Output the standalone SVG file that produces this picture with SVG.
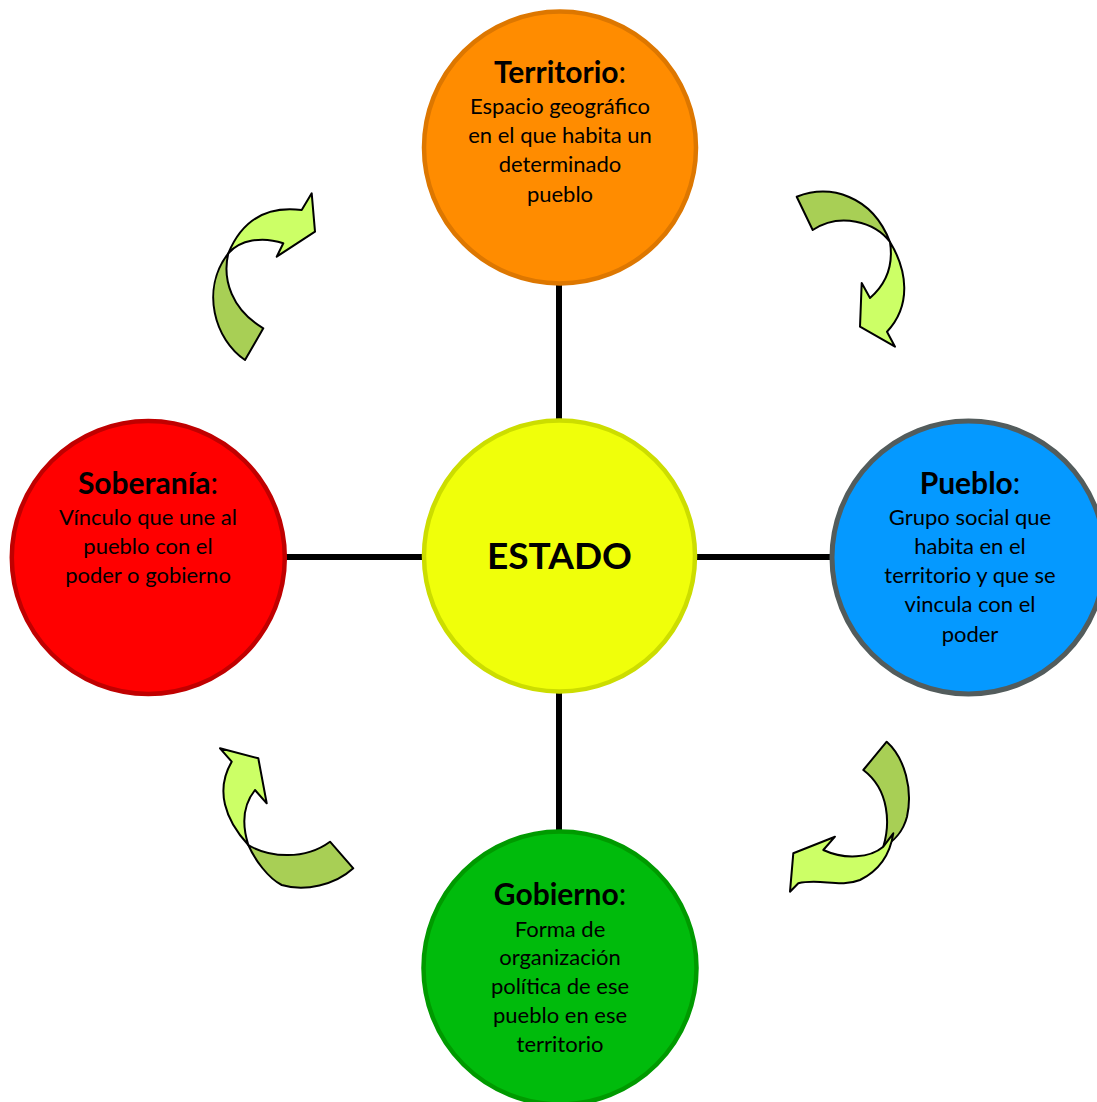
<svg xmlns="http://www.w3.org/2000/svg" width="1097" height="1102" viewBox="0 0 1097 1102">
<style>
.t{font-family:Lato,"Liberation Sans",sans-serif;text-anchor:middle;fill:#000}
.h{font-size:30px;font-weight:bold}
.c{font-weight:normal}
.b{font-size:22px}
.line{stroke:#000;stroke-width:6;fill:none}
.dk{fill:#A8CF55;stroke:#000;stroke-width:2;stroke-linejoin:round}
.lt{fill:#CCFF66;stroke:#000;stroke-width:2;stroke-linejoin:round}
</style>
<rect width="1097" height="1102" fill="#fff"/>
<g id="connectors">
<line class="line" x1="559" y1="284" x2="559" y2="422"/>
<line class="line" x1="559" y1="690" x2="559" y2="832"/>
<line class="line" x1="286" y1="557" x2="424" y2="557"/>
<line class="line" x1="694" y1="557" x2="833" y2="557"/>
</g>
<g id="cycle-arrows">
<g id="arrow-tr">
<path class="dk" d="M796.7,196.7 C830,184 872,195 890,242 C875,222 840,212 812.7,230 Z"/>
<path class="lt" d="M890,242 C907,270 912,305 887,331.7 L895,346.7 L860,326.7 L861.7,283 L870,298 C885,285 894,268 890,242 Z"/>
</g>
<g id="arrow-tl">
<path class="dk" d="M245,360 C215,340 200,290 228.3,253.3 C222,280 232,310 263.3,328.3 Z"/>
<path class="lt" d="M228.3,253.3 C240,225 262,205 301.7,210 L311.7,193.3 L315,231.7 L276.7,256.7 L283.3,243.3 C262,236 240,240 228.3,253.3 Z"/>
</g>
<g id="arrow-bl">
<path class="lt" d="M248.3,845 C225,820 215,790 231.7,761.7 L220,748.3 L258.3,758.3 L266.7,803.3 L255,790 C243,805 242,825 248.3,845 Z"/>
<path class="dk" d="M248.3,845 C270,858 305,860 330,841.7 L353.3,868.3 C335,885 305,892 281.7,885 C268,878 255,860 248.3,845 Z"/>
</g>
<g id="arrow-br">
<path class="dk" d="M886.7,741.7 C905,758 913,790 907,816.7 C903,832 893,842 883.3,846.7 C890,825 890,790 863.3,770 Z"/>
<path class="lt" d="M883.3,846.7 C870,858 845,860 823.3,850 L835,836.7 L793.3,853.3 L790,891.7 L798.3,883.3 C820,878 840,888 860,880 C880,870 890,855 893.3,833.3 Z"/>
</g>
</g>
<g id="node-territorio">
<circle cx="560" cy="147.5" r="136" fill="#FF8C00" stroke="#DD7700" stroke-width="4.5"/>
<text class="t h" x="560" y="83">Territorio<tspan class="c">:</tspan></text>
<text class="t b" x="560" y="113.5">Espacio geográfico</text>
<text class="t b" x="560" y="142.8">en el que habita un</text>
<text class="t b" x="560" y="172">determinado</text>
<text class="t b" x="560" y="201.5">pueblo</text>
</g>
<g id="node-estado">
<circle cx="559.5" cy="556" r="135.5" fill="#F0FF0A" stroke="#CCDD00" stroke-width="4.5"/>
<text class="t" x="559.5" y="569" font-size="37" font-weight="bold">ESTADO</text>
</g>
<g id="node-soberania">
<circle cx="148.3" cy="557.5" r="136.5" fill="#FF0000" stroke="#C00000" stroke-width="4.5"/>
<text class="t h" x="148" y="494">Soberanía<tspan class="c">:</tspan></text>
<text class="t b" x="148" y="525">Vínculo que une al</text>
<text class="t b" x="148" y="553.5">pueblo con el</text>
<text class="t b" x="148" y="583">poder o gobierno</text>
</g>
<g id="node-pueblo">
<circle cx="968.5" cy="557.5" r="136.5" fill="#0599FF" stroke="#535C5C" stroke-width="5"/>
<text class="t h" x="970" y="494">Pueblo<tspan class="c">:</tspan></text>
<text class="t b" x="970" y="525">Grupo social que</text>
<text class="t b" x="970" y="553.5">habita en el</text>
<text class="t b" x="970" y="583">territorio y que se</text>
<text class="t b" x="970" y="612">vincula con el</text>
<text class="t b" x="970" y="641.5">poder</text>
</g>
<g id="node-gobierno">
<circle cx="560" cy="968" r="136.5" fill="#00BB0C" stroke="#009A00" stroke-width="4.5"/>
<text class="t h" x="560" y="905">Gobierno<tspan class="c">:</tspan></text>
<text class="t b" x="560" y="936.5">Forma de</text>
<text class="t b" x="560" y="965">organización</text>
<text class="t b" x="560" y="994">política de ese</text>
<text class="t b" x="560" y="1023">pueblo en ese</text>
<text class="t b" x="560" y="1052">territorio</text>
</g>
</svg>
